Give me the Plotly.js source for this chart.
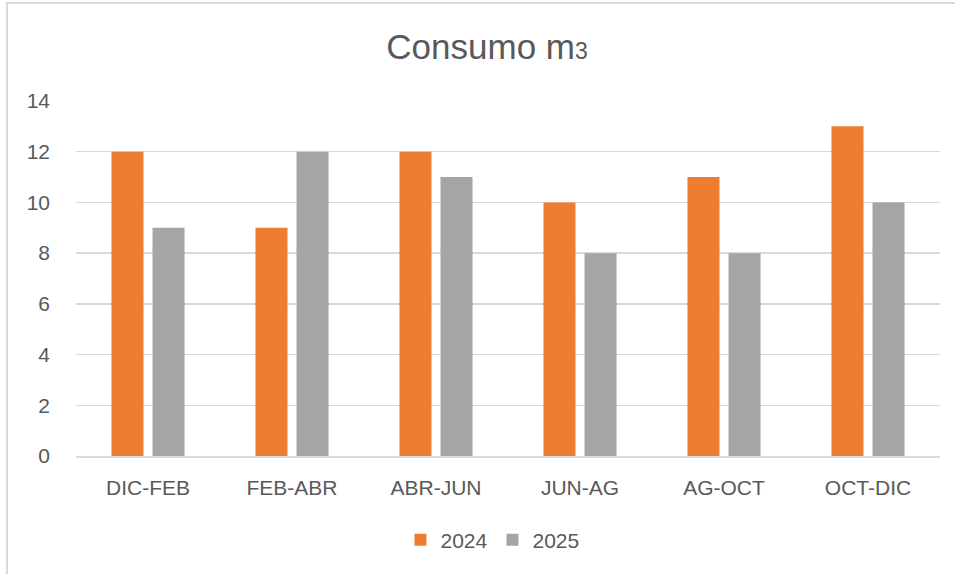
<!DOCTYPE html>
<html><head><meta charset="utf-8">
<script src="https://cdn.plot.ly/plotly-3.0.1.min.js"></script>
<style>
body{margin:0;background:#fff;}
#wrap{position:relative;width:955px;height:574px;overflow:hidden;}
#frame{position:absolute;left:6px;top:2px;width:1000px;height:1000px;border-left:2px solid #d9d9d9;border-top:2px solid #d9d9d9;pointer-events:none;}
#chart{position:absolute;left:0;top:0;width:955px;height:574px;}
</style></head>
<body><div id="wrap"><div id="chart"></div><div id="frame"></div></div>
<script>
const categories = ["DIC-FEB","FEB-ABR","ABR-JUN","JUN-AG","AG-OCT","OCT-DIC"];
const values2024 = [12, 9, 12, 10, 11, 13];
const values2025 = [9, 12, 11, 8, 8, 10];
const seriesNames = ["2024","2025"];
const yTicks = [0,2,4,6,8,10,12,14];

const font = {family:"Liberation Sans, Arial, sans-serif", color:"#595959", size:21};
const data = [
  {type:"bar", name:seriesNames[0], x:categories, y:values2024, marker:{color:"#ED7D31"}},
  {type:"bar", name:seriesNames[1], x:categories, y:values2025, marker:{color:"#A5A5A5"}}
];
const layout = {
  width:955, height:574,
  margin:{l:76, r:15, t:101, b:118},
  paper_bgcolor:"rgba(0,0,0,0)", plot_bgcolor:"#fff",
  font: font,
  title:{text:'Consumo m<span style="font-size:23px">3</span>', font:{family:font.family, size:35, color:"#595959"}, x:0.51, xanchor:"center", y:0.918, yanchor:"middle"},
  barmode:"group", bargap:0.43, bargroupgap:0.22,
  showlegend:true,
  legend:{orientation:"h", x:0.482, xanchor:"center", y:-0.237, yanchor:"middle", font:font, itemwidth:30, traceorder:"normal"},
  xaxis:{type:"category", showgrid:false, showline:true, linecolor:"#d9d9d9", linewidth:1.5, ticks:"", tickfont:font, ticklabelstandoff:12, fixedrange:true},
  yaxis:{range:[0,14], tickvals:yTicks, ticktext:yTicks.map(String), showgrid:true, gridcolor:"#d9d9d9", gridwidth:1.5, zeroline:false, showline:false, ticks:"", tickfont:font, ticklabelstandoff:25, fixedrange:true}
};
Plotly.newPlot("chart", data, layout, {displayModeBar:false, staticPlot:true});
</script></body></html>
